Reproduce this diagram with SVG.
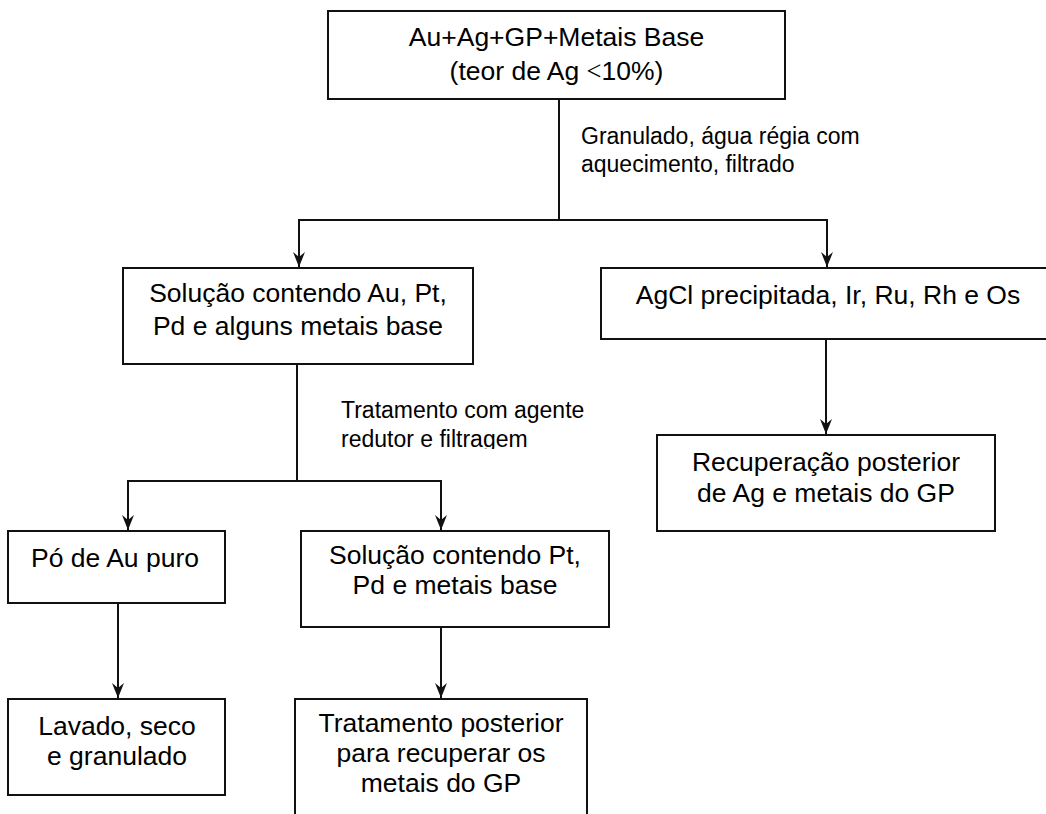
<svg xmlns="http://www.w3.org/2000/svg" width="1046" height="814" viewBox="0 0 1046 814">
  <style>
    .box { fill: #ffffff; stroke: #111111; stroke-width: 2; }
    .node-text { font-family: "Liberation Sans", Arial, sans-serif; font-size: 26.5px; fill: #000000; text-anchor: middle; }
    .edge-text { font-family: "Liberation Sans", Arial, sans-serif; font-size: 23px; fill: #000000; }
    .wire { fill: none; stroke: #111111; stroke-width: 2; }
    .sym { font-family: "Liberation Serif", "Times New Roman", serif; }
  </style>
  <defs>
    <marker id="arrow" markerUnits="userSpaceOnUse" markerWidth="16" markerHeight="14" refX="0" refY="0" viewBox="-15 -7 16 14" orient="auto">
      <path d="M0,0 L-15,-6 L-10,0 L-15,6 Z" fill="#111111"/>
    </marker>
    <clipPath id="label-clip">
      <rect x="330" y="390" width="300" height="59"/>
    </clipPath>
  </defs>
  <rect width="1046" height="814" fill="#ffffff"/>

  <!-- connectors -->
  <g id="connectors">
    <path class="wire" d="M559,99 V220"/>
    <path class="wire" d="M559,220 H299 V267" marker-end="url(#arrow)"/>
    <path class="wire" d="M559,220 H827 V267" marker-end="url(#arrow)"/>
    <path class="wire" d="M826,339 V434" marker-end="url(#arrow)"/>
    <path class="wire" d="M297,364 V481"/>
    <path class="wire" d="M297,481 H128 V530" marker-end="url(#arrow)"/>
    <path class="wire" d="M297,481 H441 V530" marker-end="url(#arrow)"/>
    <path class="wire" d="M118,603 V698" marker-end="url(#arrow)"/>
    <path class="wire" d="M441,627 V698" marker-end="url(#arrow)"/>
    <text class="edge-text" x="581" y="144">Granulado, água régia com</text>
    <text class="edge-text" x="581" y="172">aquecimento, filtrado</text>
    <g clip-path="url(#label-clip)">
      <text class="edge-text" x="341" y="418">Tratamento com agente</text>
      <text class="edge-text" x="341" y="447">redutor e filtragem</text>
    </g>
  </g>

  <g id="feed">
    <rect class="box" x="328" y="11" width="457" height="88"/>
    <text class="node-text" x="556.5" y="46">Au+Ag+GP+Metais Base</text>
    <text class="node-text" x="556.5" y="80">(teor de Ag <tspan class="sym">&lt;</tspan>10%)</text>
  </g>

  <g id="solution-au-pt-pd">
    <rect class="box" x="123" y="268" width="350" height="96"/>
    <text class="node-text" x="298" y="302">Solução contendo Au, Pt,</text>
    <text class="node-text" x="298" y="335">Pd e alguns metais base</text>
  </g>

  <g id="agcl-residue">
    <rect class="box" x="601" y="268" width="452" height="71"/>
    <text class="node-text" x="828" y="304">AgCl precipitada, Ir, Ru, Rh e Os</text>
  </g>

  <g id="ag-recovery">
    <rect class="box" x="657" y="435" width="338" height="96"/>
    <text class="node-text" x="826" y="471">Recuperação posterior</text>
    <text class="node-text" x="826" y="502">de Ag e metais do GP</text>
  </g>

  <g id="gold-powder">
    <rect class="box" x="8" y="531" width="217" height="72"/>
    <text class="node-text" x="115" y="567">Pó de Au puro</text>
  </g>

  <g id="washed-gold">
    <rect class="box" x="8" y="699" width="217" height="96"/>
    <text class="node-text" x="117" y="735">Lavado, seco</text>
    <text class="node-text" x="117" y="765">e granulado</text>
  </g>

  <g id="solution-pt-pd">
    <rect class="box" x="301" y="531" width="308" height="96"/>
    <text class="node-text" x="455" y="564">Solução contendo Pt,</text>
    <text class="node-text" x="455" y="594">Pd e metais base</text>
  </g>

  <g id="pgm-treatment">
    <rect class="box" x="295" y="699" width="292" height="130"/>
    <text class="node-text" x="441" y="732">Tratamento posterior</text>
    <text class="node-text" x="441" y="762">para recuperar os</text>
    <text class="node-text" x="441" y="792">metais do GP</text>
  </g>
</svg>
